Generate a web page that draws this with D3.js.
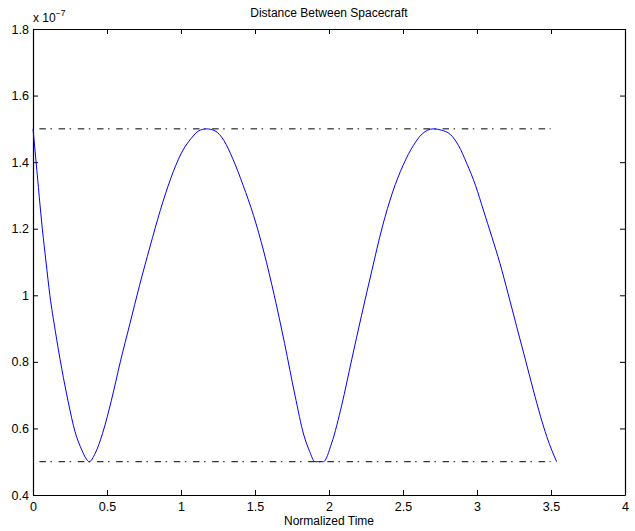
<!DOCTYPE html>
<html>
<head>
<meta charset="utf-8">
<script src="https://cdn.jsdelivr.net/npm/d3@7"></script>
<style>
  html, body { margin: 0; padding: 0; background: #fff; }
  svg { display: block; font-family: "Liberation Sans", Arial, Helvetica, sans-serif; }
</style>
</head>
<body>
<svg id="chart" width="635" height="531"></svg>
<script>
// Separation between the two spacecraft, in units of 1e-7, against normalized time
const time = [
  0, 0.021, 0.063, 0.088, 0.114, 0.15, 0.194, 0.238, 0.284, 0.33, 0.355, 0.38,
  0.42, 0.47, 0.53, 0.59, 0.655, 0.72, 0.79, 0.86, 0.93, 1.00, 1.07, 1.12, 1.173,
  1.23, 1.29, 1.35, 1.42, 1.49, 1.56, 1.63, 1.70, 1.77, 1.83, 1.87, 1.905,
  1.962, 2.018, 2.086, 2.153, 2.22, 2.29, 2.36, 2.43, 2.50, 2.57, 2.63, 2.705,
  2.76, 2.818, 2.875, 2.93, 2.99, 3.043, 3.10, 3.155, 3.21, 3.268, 3.325, 3.38, 3.43, 3.471, 3.505, 3.538
];
const distance = [
  1.5, 1.4, 1.2, 1.1, 1.0, 0.895, 0.78, 0.68, 0.59, 0.535, 0.512, 0.5,
  0.525, 0.585, 0.685, 0.8, 0.915, 1.03, 1.145, 1.255, 1.35, 1.425, 1.472, 1.494, 1.5,
  1.494, 1.465, 1.41, 1.33, 1.24, 1.13, 1.0, 0.855, 0.7, 0.58, 0.53, 0.5,
  0.5, 0.556, 0.67, 0.806, 0.94, 1.075, 1.205, 1.31, 1.39, 1.45, 1.485, 1.5,
  1.496, 1.484, 1.45, 1.397, 1.33, 1.256, 1.176, 1.096, 1.005, 0.906, 0.81, 0.716, 0.635, 0.576, 0.535, 0.5
];
// Limits of the oscillation, drawn as dash-dot reference lines
const bounds = [1.5, 0.5];
const exponent = -7;

const xTicks = [0, 0.5, 1, 1.5, 2, 2.5, 3, 3.5, 4];
const yTicks = [0.4, 0.6, 0.8, 1, 1.2, 1.4, 1.6, 1.8];
const titleText = "Distance Between Spacecraft";
const xLabel = "Normalized Time";

const svg = d3.select("#chart");
const margin = { left: 33, right: 10, top: 29, bottom: 36 };
const W = 635, H = 531;

const x = d3.scaleLinear().domain([0, 4]).range([margin.left, W - margin.right]);
const y = d3.scaleLinear().domain([0.4, 1.8]).range([H - margin.bottom, margin.top]);

const tickLen = 5;
const fmt = d => String(d);

// Axes: ticks point inward on all four sides (boxed plot)
const gx = svg.append("g").attr("transform", `translate(0,${y(0.4)})`)
  .call(d3.axisBottom(x).tickValues(xTicks).tickFormat(fmt).tickSizeInner(-tickLen).tickSizeOuter(0).tickPadding(7));
const gxTop = svg.append("g").attr("transform", `translate(0,${y(1.8)})`)
  .call(d3.axisTop(x).tickValues(xTicks).tickFormat("").tickSizeInner(-tickLen).tickSizeOuter(0));
const gy = svg.append("g").attr("transform", `translate(${x(0)},0)`)
  .call(d3.axisLeft(y).tickValues(yTicks).tickFormat(fmt).tickSizeInner(-tickLen).tickSizeOuter(0).tickPadding(4));
const gyRight = svg.append("g").attr("transform", `translate(${x(4)},0)`)
  .call(d3.axisRight(y).tickValues(yTicks).tickFormat("").tickSizeInner(-tickLen).tickSizeOuter(0));

[gx, gxTop, gy, gyRight].forEach(g => {
  g.select(".domain").attr("stroke", "#000").attr("stroke-width", 1.2);
  g.selectAll(".tick line").attr("stroke", "#000").attr("stroke-width", 1);
  g.selectAll(".tick text").attr("fill", "#000").style("font-size", "12.5px")
    .style("font-family", '"Liberation Sans", Arial, sans-serif');
});
gx.selectAll(".tick text").attr("dy", "0.71em");

// Reference lines at the bounds
const xEnd = time[time.length - 1];
svg.append("g").selectAll("line.bound").data(bounds).join("line")
  .attr("class", "bound")
  .attr("x1", x(0)).attr("x2", x(xEnd) - 6)
  .attr("y1", d => y(d)).attr("y2", d => y(d))
  .attr("stroke", "#000").attr("stroke-width", 1)
  .attr("stroke-dasharray", "6.5,4.5,1.5,6.7")
  .attr("stroke-dashoffset", 12.8);

// Distance curve
const pts = time.map((t, i) => [t, distance[i]]);
svg.append("path").datum(pts)
  .attr("fill", "none").attr("stroke", "#0000ff").attr("stroke-width", 1)
  .attr("d", d3.line().curve(d3.curveMonotoneX).x(d => x(d[0])).y(d => y(d[1])));

// Title, axis label and exponent marker
svg.append("text").attr("x", (x(0) + x(4)) / 2).attr("y", 16.5)
  .attr("text-anchor", "middle").style("font-size", "12px").text(titleText);
svg.append("text").attr("x", (x(0) + x(4)) / 2).attr("y", 525)
  .attr("text-anchor", "middle").style("font-size", "12px").text(xLabel);

const ex = svg.append("text").attr("x", 33).attr("y", 21.5).style("font-size", "12px");
ex.append("tspan").text("x 10");
ex.append("tspan").attr("dy", -6).style("font-size", "8.5px").text("\u2212" + Math.abs(exponent));
</script>
</body>
</html>
